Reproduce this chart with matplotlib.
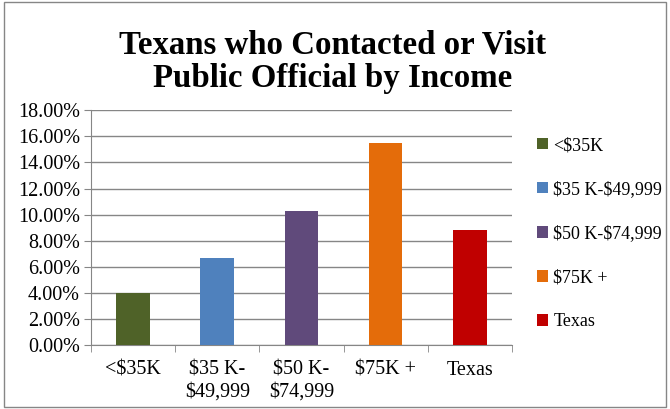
import matplotlib.pyplot as plt
from matplotlib.patches import Rectangle, Patch
from matplotlib.ticker import FuncFormatter, MultipleLocator

groups = ["<$35K", "$35 K-$49,999", "$50 K-$74,999", "$75K +", "Texas"]
tick_labels = ["<$35K", "$35 K-\n$49,999", "$50 K-\n$74,999", "$75K +", "Texas"]
share = [0.040, 0.067, 0.103, 0.155, 0.088]
colors = ["#4F6228", "#4F81BD", "#604A7B", "#E46C0A", "#C00000"]

plt.rcParams["font.family"] = ["Liberation Serif", "DejaVu Serif"]
plt.rcParams["text.parse_math"] = False

fig = plt.figure(figsize=(6.7, 4.09), dpi=100)
ax = fig.add_axes([0.1358, 0.1553, 0.6282, 0.5757])

x = range(len(groups))
ax.bar(x, share, width=0.4, color=colors, zorder=3)

ax.set_xlim(-0.5, len(groups) - 0.5)
ax.set_ylim(0, 0.18)
ax.yaxis.set_major_locator(MultipleLocator(0.02))
ax.yaxis.set_major_formatter(FuncFormatter(lambda v, p: f"{v * 100:.2f}%"))
ax.set_xticks(list(x))
ax.set_xticklabels(tick_labels, linespacing=1.2)
ax.set_xticks([i - 0.5 for i in range(len(groups) + 1)], minor=True)
ax.tick_params(axis="x", which="major", length=0, pad=11, labelsize=14.5)
ax.tick_params(axis="x", which="minor", length=5, color="#868686")
ax.tick_params(axis="y", length=5, color="#868686", labelsize=14.5, pad=3)

ax.grid(axis="y", color="#868686", linewidth=1, zorder=0)
for side in ["top", "right"]:
    ax.spines[side].set_visible(False)
ax.spines["left"].set_color("#868686")
ax.spines["bottom"].set_color("#868686")

fig.text(0.497, 0.928, "Texans who Contacted or Visit\nPublic Official by Income",
         ha="center", va="top", fontsize=23.7, fontweight="bold", linespacing=1.1)

handles = [Patch(facecolor=c) for c in colors]
fig.legend(handles, groups, loc="upper left", bbox_to_anchor=(0.8015, 0.665),
           frameon=False, fontsize=13, labelspacing=1.5, borderpad=0,
           borderaxespad=0, handlelength=0.6, handleheight=0.6, handletextpad=0.3)

# thin border round the whole chart
fig.patches.append(Rectangle((0.006, 0.006), 0.988, 0.988, transform=fig.transFigure,
                             fill=False, edgecolor="#868686", linewidth=1))

fig.savefig("out.png", dpi=100)
